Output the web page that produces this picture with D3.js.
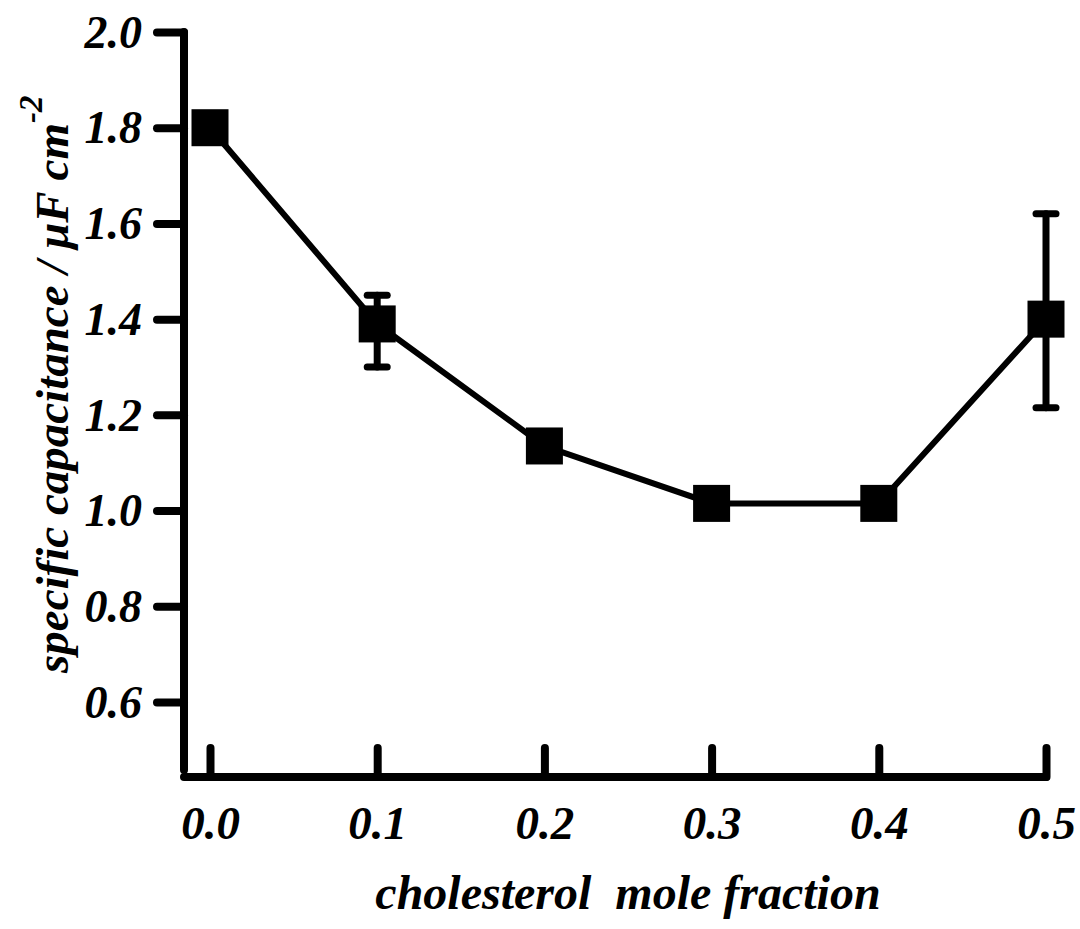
<!DOCTYPE html>
<html>
<head>
<meta charset="utf-8">
<script src="https://cdn.jsdelivr.net/npm/d3@7"></script>
<style>
  body { margin: 0; background: #fff; }
  text { font-family: "Liberation Serif", "Times New Roman", serif; font-weight: bold; font-style: italic; fill: #000; }
</style>
</head>
<body>
<div id="my_dataviz"></div>
<script>
// data
var fraction = [0.0, 0.1, 0.2, 0.3, 0.4, 0.5];
var capacitance = [1.80, 1.39, 1.135, 1.015, 1.015, 1.40];
var errLow = [null, 1.30, null, null, null, 1.215];
var errHigh = [null, 1.45, null, null, null, 1.62];
var xTicks = [0.0, 0.1, 0.2, 0.3, 0.4, 0.5];
var yTicks = [0.6, 0.8, 1.0, 1.2, 1.4, 1.6, 1.8, 2.0];

var width = 1080, height = 929;

var svg = d3.select("#my_dataviz")
  .append("svg")
    .attr("width", width)
    .attr("height", height);

var x = d3.scaleLinear().domain([0, 0.5]).range([210, 1046]);
var y = d3.scaleLinear().domain([0.6, 2.0]).range([702, 32]);

var axisY0 = 777;   // x axis baseline
var axisX0 = 184;   // y axis position

// Y axis ticks + labels
var gy = svg.append("g")
  .attr("transform", "translate(" + axisX0 + ",0)")
  .call(d3.axisLeft(y).tickValues(yTicks).tickFormat(d3.format(".1f")).tickSize(27).tickPadding(15));
gy.select(".domain").remove();
gy.selectAll(".tick line").attr("stroke", "#000").attr("stroke-width", 8).attr("stroke-linecap", "round");
gy.selectAll(".tick text").attr("font-size", 46).attr("dy", "0.33em");

// X axis ticks + labels (ticks point up)
var gx = svg.append("g")
  .attr("transform", "translate(0," + axisY0 + ")")
  .call(d3.axisBottom(x).tickValues(xTicks).tickFormat(d3.format(".1f")).tickSize(-29).tickPadding(0));
gx.select(".domain").remove();
gx.selectAll(".tick line").attr("stroke", "#000").attr("stroke-width", 8).attr("stroke-linecap", "round");
gx.selectAll(".tick text").attr("font-size", 47).attr("y", 62).attr("dy", 0);

// axis lines
svg.append("line")
  .attr("x1", axisX0).attr("x2", axisX0)
  .attr("y1", y(2.0)).attr("y2", 770)
  .attr("stroke", "#000").attr("stroke-width", 8).attr("stroke-linecap", "round");
svg.append("line")
  .attr("x1", axisX0).attr("x2", x(0.5))
  .attr("y1", axisY0).attr("y2", axisY0)
  .attr("stroke", "#000").attr("stroke-width", 8).attr("stroke-linecap", "round");

var data = fraction.map(function(d, i) {
  return { f: d, c: capacitance[i], lo: errLow[i], hi: errHigh[i] };
});

// connecting line
svg.append("path")
  .datum(data)
  .attr("fill", "none")
  .attr("stroke", "#000")
  .attr("stroke-width", 6)
  .attr("d", d3.line()
    .x(function(d) { return x(d.f); })
    .y(function(d) { return y(d.c); }));

// error bars
var eb = svg.selectAll("myerr")
  .data(data.filter(function(d) { return d.lo != null; }))
  .enter()
  .append("g")
  .attr("stroke", "#000").attr("stroke-width", 7).attr("stroke-linecap", "round");
eb.append("line")
  .attr("x1", function(d) { return x(d.f); })
  .attr("x2", function(d) { return x(d.f); })
  .attr("y1", function(d) { return y(d.lo); })
  .attr("y2", function(d) { return y(d.hi); });
eb.append("line")
  .attr("x1", function(d) { return x(d.f) - 10; })
  .attr("x2", function(d) { return x(d.f) + 10; })
  .attr("y1", function(d) { return y(d.hi); })
  .attr("y2", function(d) { return y(d.hi); });
eb.append("line")
  .attr("x1", function(d) { return x(d.f) - 10; })
  .attr("x2", function(d) { return x(d.f) + 10; })
  .attr("y1", function(d) { return y(d.lo); })
  .attr("y2", function(d) { return y(d.lo); });

// square markers
var sq = 37;
svg.selectAll("mysquare")
  .data(data)
  .enter()
  .append("rect")
    .attr("x", function(d) { return x(d.f) - sq / 2; })
    .attr("y", function(d) { return y(d.c) - sq / 2; })
    .attr("width", sq)
    .attr("height", sq)
    .attr("fill", "#000");

// axis titles
svg.append("text")
  .attr("x", 628)
  .attr("y", 909)
  .attr("text-anchor", "middle")
  .attr("font-size", 48)
  .attr("xml:space", "preserve")
  .text("cholesterol  mole fraction");

var yt = svg.append("text")
  .attr("transform", "translate(68,673) rotate(-90)")
  .attr("text-anchor", "start")
  .attr("font-size", 47);
yt.append("tspan").text("specific capacitance / \u03bcF cm");
yt.append("tspan").attr("dy", -26).attr("font-size", 33).text("-2");
</script>
</body>
</html>
